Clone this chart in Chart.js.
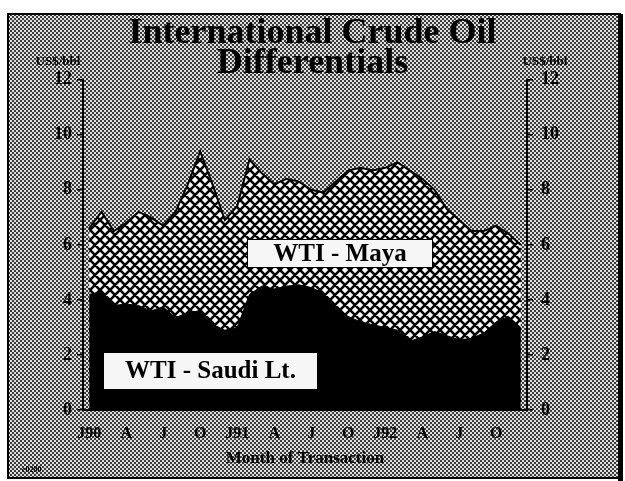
<!DOCTYPE html>
<html>
<head>
<meta charset="utf-8">
<script src="https://cdn.jsdelivr.net/npm/chart.js@4/dist/chart.umd.min.js"></script>
<style>
  html, body { margin: 0; padding: 0; background: #ffffff; }
  #chart { display: block; }
</style>
</head>
<body>
<canvas id="chart" width="625" height="481"></canvas>
<script>
// months Jan 1990 - Dec 1992
const months = [
    'Jan 90', 'Feb 90', 'Mar 90', 'Apr 90', 'May 90', 'Jun 90', 'Jul 90', 'Aug 90', 'Sep 90', 'Oct 90', 'Nov 90', 'Dec 90',
    'Jan 91', 'Feb 91', 'Mar 91', 'Apr 91', 'May 91', 'Jun 91', 'Jul 91', 'Aug 91', 'Sep 91', 'Oct 91', 'Nov 91', 'Dec 91',
    'Jan 92', 'Feb 92', 'Mar 92', 'Apr 92', 'May 92', 'Jun 92', 'Jul 92', 'Aug 92', 'Sep 92', 'Oct 92', 'Nov 92', 'Dec 92'
];
const quarterLabels = ['J90', 'A', 'J', 'O', 'J91', 'A', 'J', 'O', 'J92', 'A', 'J', 'O'];

// US$/bbl
const wtiMaya = [
    6.6, 7.2, 6.5, 6.8, 7.2, 7.0, 6.7, 7.2, 8.2, 9.4, 8.2, 6.9,
    7.4, 9.1, 8.6, 8.2, 8.4, 8.3, 8.0, 7.9, 8.3, 8.7, 8.8, 8.7,
    8.8, 9.0, 8.7, 8.4, 8.0, 7.3, 6.9, 6.5, 6.5, 6.7, 6.4, 6.0
];
const wtiSaudi = [
    4.2, 4.3, 3.8, 3.85, 3.8, 3.6, 3.75, 3.35, 3.55, 3.6, 3.1, 2.9,
    3.0, 4.2, 4.5, 4.4, 4.5, 4.55, 4.45, 4.25, 3.7, 3.4, 3.2, 3.1,
    3.0, 2.9, 2.5, 2.65, 2.85, 2.7, 2.55, 2.6, 2.8, 3.2, 3.4, 3.0
];

const titleLines = ['International Crude Oil', 'Differentials'];
const unitLabel = 'US$/bbl';
const xTitle = 'Month of Transaction';
const mayaLabel = 'WTI - Maya';
const saudiLabel = 'WTI - Saudi Lt.';

const serif = "'Liberation Serif', 'DejaVu Serif', serif";

function makeHatch() {
    const c = document.createElement('canvas');
    c.width = 10;
    c.height = 10;
    const g = c.getContext('2d');
    g.fillStyle = '#ffffff';
    g.fillRect(0, 0, 10, 10);
    g.strokeStyle = '#000000';
    g.lineWidth = 2.6;
    g.beginPath();
    for (let k = -10; k <= 10; k += 10) {
        g.moveTo(k, 0);
        g.lineTo(k + 10, 10);
        g.moveTo(k, 10);
        g.lineTo(k + 10, 0);
    }
    g.stroke();
    return g.createPattern(c, 'repeat');
}

function makeDither() {
    const c = document.createElement('canvas');
    c.width = 4;
    c.height = 4;
    const g = c.getContext('2d');
    g.fillStyle = '#dedede';
    g.fillRect(0, 0, 4, 4);
    g.fillStyle = '#3c3c3c';
    g.fillRect(0, 0, 2, 2);
    g.fillRect(2, 2, 2, 2);
    return g.createPattern(c, 'repeat');
}

const dither = makeDither();

// grey halftone panel with black frame
const backdrop = {
    id: 'backdrop',
    beforeDraw(chart) {
        const ctx = chart.ctx;
        ctx.save();
        ctx.fillStyle = '#ffffff';
        ctx.fillRect(0, 0, chart.width, chart.height);
        ctx.fillStyle = dither;
        ctx.fillRect(8, 14, 612, 464);
        ctx.strokeStyle = '#000000';
        ctx.lineWidth = 2;
        ctx.strokeRect(8, 14, 612, 464);
        ctx.fillStyle = '#000000';
        ctx.fillRect(618, 14, 5, 467);
        ctx.restore();
    }
};

function labelBox(ctx, text, x, y, w, h) {
    ctx.fillStyle = '#f6f6f6';
    ctx.fillRect(x, y, w, h);
    ctx.strokeStyle = '#000000';
    ctx.lineWidth = 1;
    ctx.strokeRect(x + 0.5, y + 0.5, w - 1, h - 1);
    ctx.fillStyle = '#000000';
    ctx.font = 'bold 25px ' + serif;
    ctx.textAlign = 'center';
    ctx.textBaseline = 'middle';
    ctx.fillText(text, x + w / 2, y + h / 2 + 1);
}

const overlays = {
    id: 'overlays',
    afterDatasetsDraw(chart) {
        const ctx = chart.ctx;
        ctx.save();
        labelBox(ctx, mayaLabel, 247, 239, 186, 29);
        labelBox(ctx, saudiLabel, 103, 352, 215, 38);

        ctx.fillStyle = '#000000';
        ctx.font = 'bold 13px ' + serif;
        ctx.textAlign = 'center';
        ctx.textBaseline = 'middle';
        ctx.fillText(unitLabel, 58, 62);
        ctx.fillText(unitLabel, 545, 62);

        ctx.font = 'bold 8px ' + serif;
        ctx.textAlign = 'left';
        ctx.fillText('c0280', 22, 470);
        ctx.restore();
    }
};

const tickFont = { family: serif, size: 18, weight: 'bold' };

const config = {
    type: 'line',
    data: {
        labels: months,
        datasets: [
            {
                label: saudiLabel,
                data: wtiSaudi,
                fill: 'origin',
                backgroundColor: '#000000',
                borderColor: '#000000',
                borderWidth: 1,
                pointRadius: 0,
                tension: 0,
                order: 0
            },
            {
                label: mayaLabel,
                data: wtiMaya,
                fill: 'origin',
                backgroundColor: makeHatch(),
                borderColor: '#000000',
                borderWidth: 2,
                pointRadius: 0,
                tension: 0,
                order: 1
            }
        ]
    },
    options: {
        responsive: false,
        animation: false,
        layout: { padding: 0 },
        plugins: {
            legend: { display: false },
            tooltip: { enabled: false },
            title: {
                display: true,
                text: titleLines,
                color: '#000000',
                font: { family: serif, size: 36, weight: 'bold', lineHeight: 0.83 },
                padding: { top: 19, bottom: 1 }
            }
        },
        scales: {
            x: {
                offset: true,
                grid: { display: false, drawTicks: false },
                border: { display: true, color: '#000000', width: 2 },
                ticks: {
                    autoSkip: false,
                    maxRotation: 0,
                    padding: 14,
                    color: '#000000',
                    font: { family: serif, size: 16, weight: 'bold' },
                    callback: function(value, index) {
                        return index % 3 === 0 ? quarterLabels[index / 3] : '';
                    }
                },
                title: {
                    display: true,
                    text: xTitle,
                    color: '#000000',
                    font: { family: serif, size: 17, weight: 'bold' },
                    padding: { top: 0, bottom: 12 }
                },
                afterFit: function(scale) { scale.height = 71; }
            },
            y: {
                position: 'left',
                min: 0,
                max: 12,
                ticks: { stepSize: 2, padding: 5, color: '#000000', font: tickFont },
                grid: { drawOnChartArea: false, tickLength: 6, color: '#000000', lineWidth: 1.5 },
                border: { display: true, color: '#000000', width: 2 },
                afterFit: function(scale) { scale.width = 83; }
            },
            y2: {
                position: 'right',
                min: 0,
                max: 12,
                ticks: { stepSize: 2, padding: 8, color: '#000000', font: tickFont },
                grid: { drawOnChartArea: false, tickLength: 6, color: '#000000', lineWidth: 1.5 },
                border: { display: true, color: '#000000', width: 2 },
                afterFit: function(scale) { scale.width = 98; }
            }
        }
    },
    plugins: [backdrop, overlays]
};

new Chart(document.getElementById('chart'), config);
</script>
</body>
</html>
